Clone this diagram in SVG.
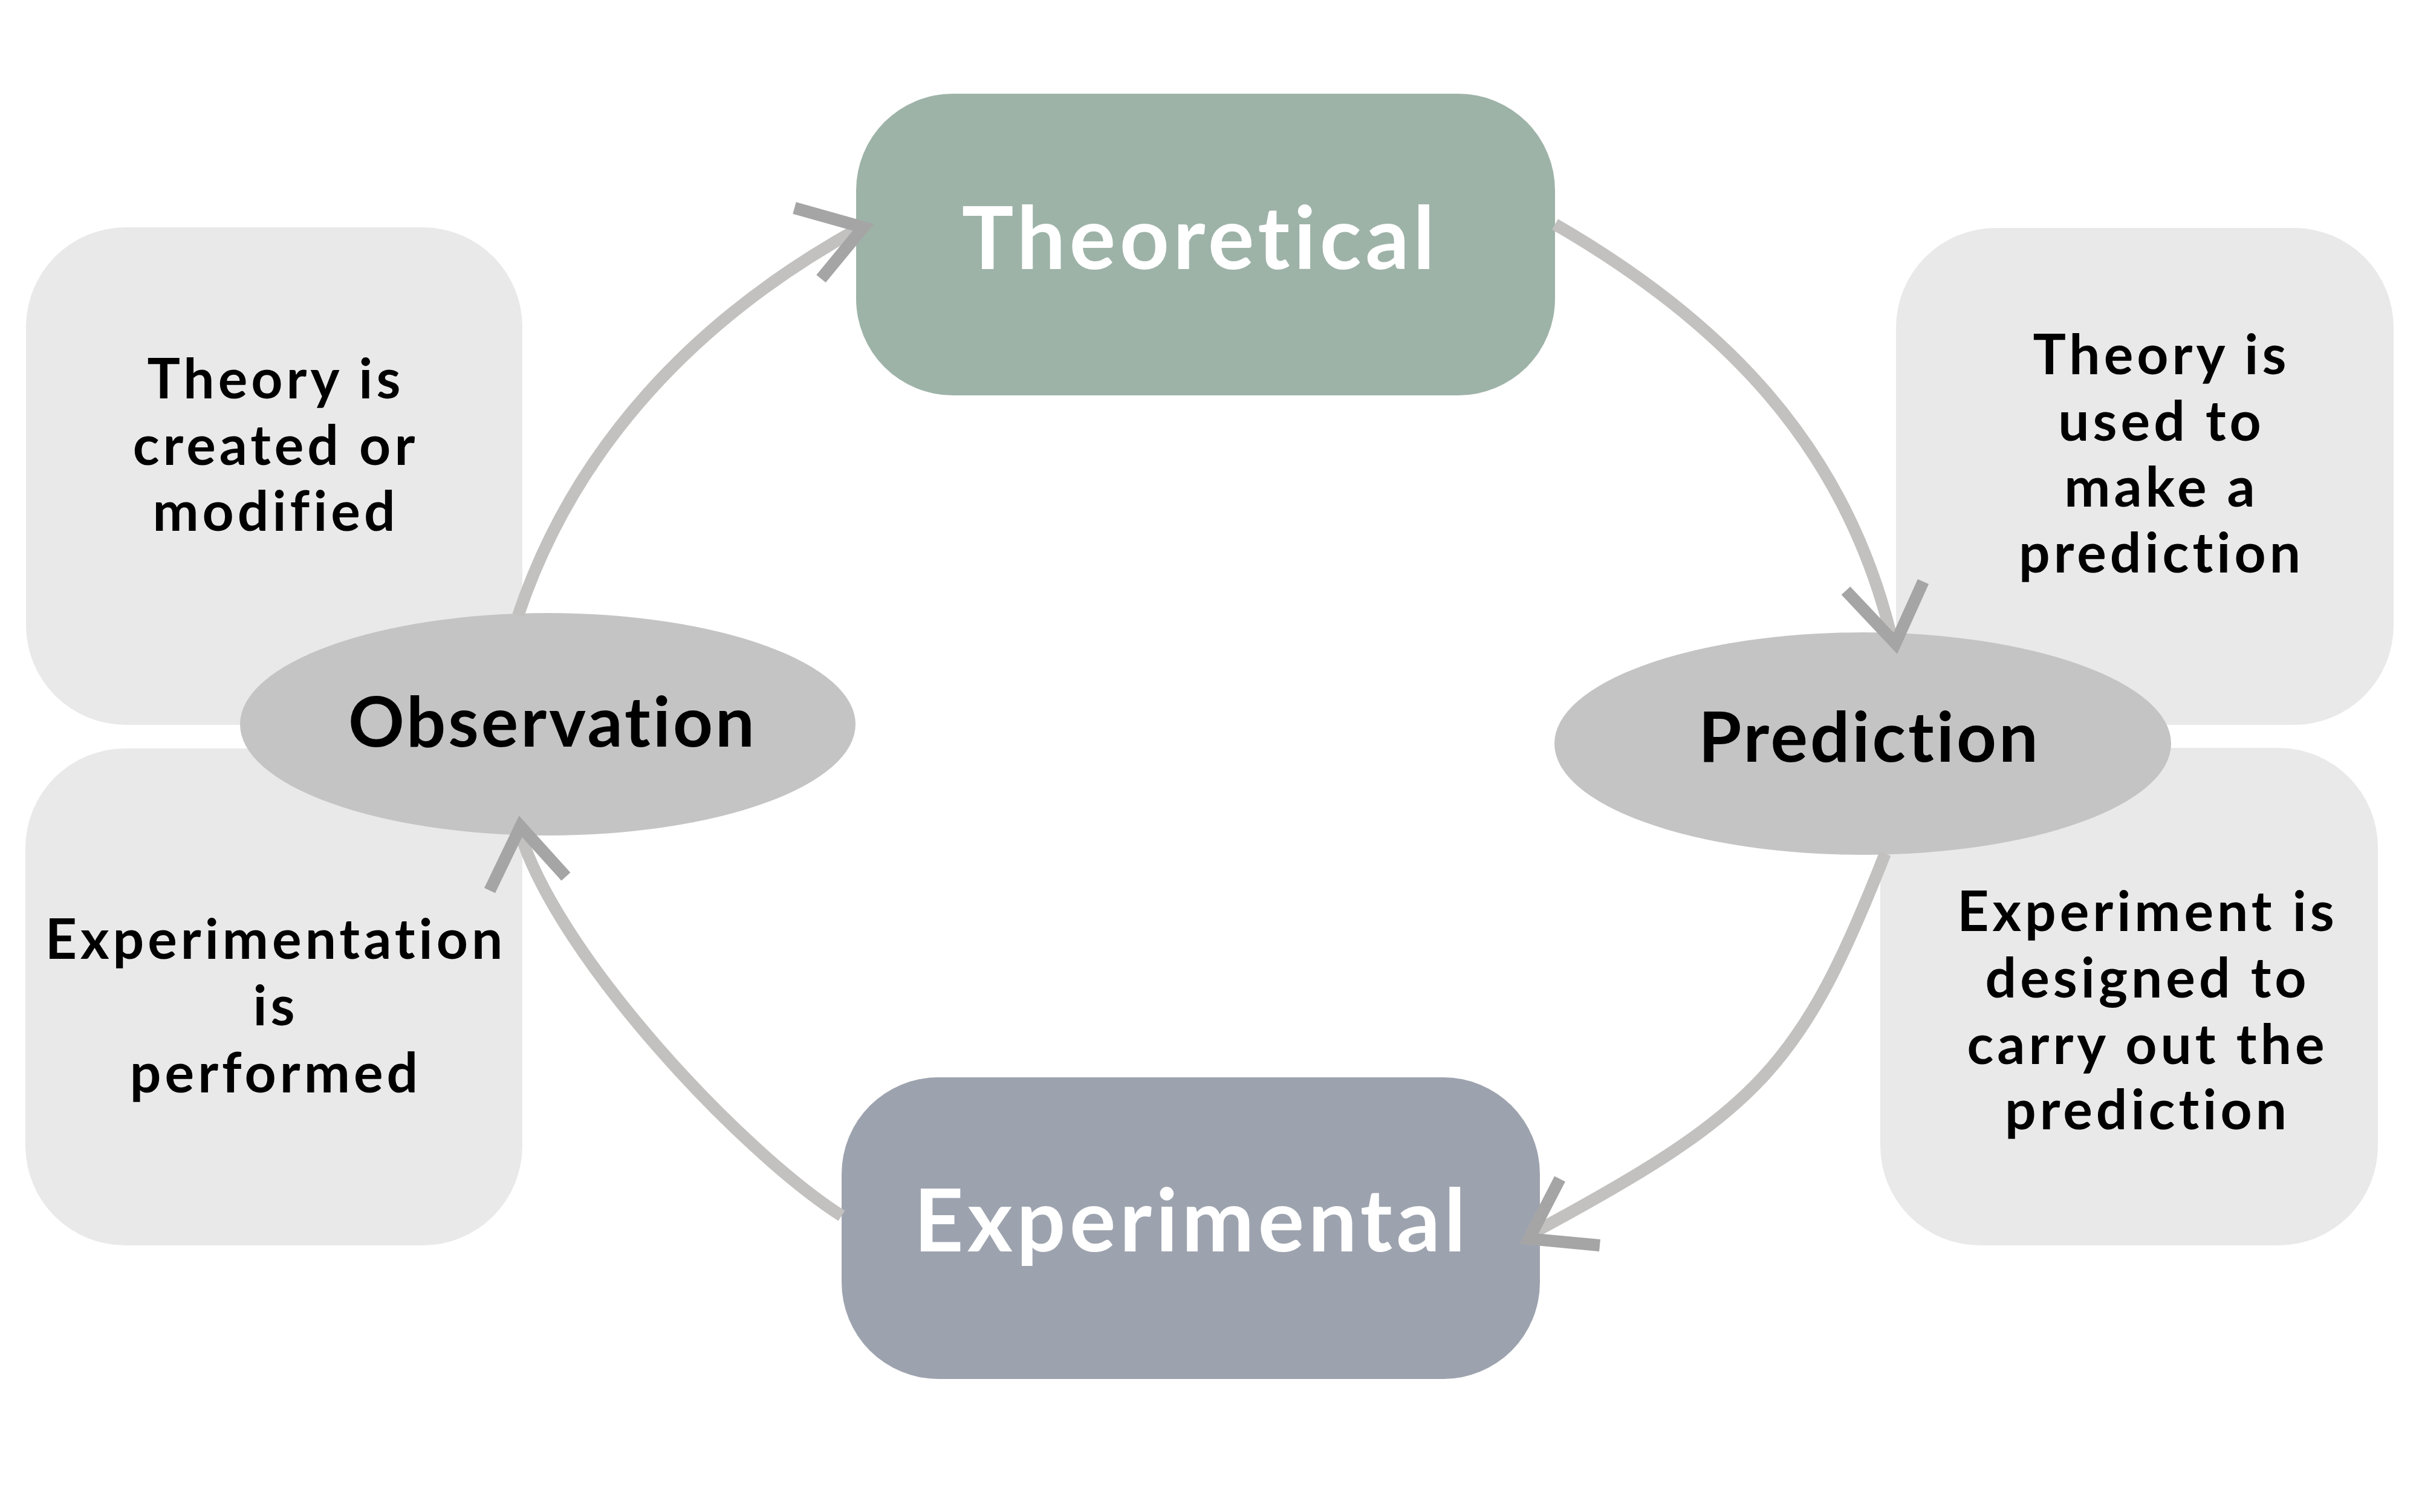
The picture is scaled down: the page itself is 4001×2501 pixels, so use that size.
<svg xmlns="http://www.w3.org/2000/svg" width="4001" height="2501" viewBox="0 0 4001 2501">
  <style>
    text { font-variant-ligatures: none; }
    .note rect { fill: #E9E9E9; }
    .note text { font-family: Lato, "Liberation Sans", sans-serif; font-weight: 700; font-size: 91px; letter-spacing: 6px; fill: #000; text-anchor: middle; }
    .ell ellipse { fill: #C4C4C4; }
    .ell text { font-family: Lato, "Liberation Sans", sans-serif; font-weight: 700; font-size: 115px; letter-spacing: 4px; fill: #000; text-anchor: middle; }
    .main text { font-family: Lato, "Liberation Sans", sans-serif; font-weight: 700; font-size: 143px; letter-spacing: 6.5px; fill: #fff; text-anchor: middle; }
    .line { fill: none; stroke: #C2C1BF; stroke-width: 20; stroke-linecap: butt; }
    .head { fill: none; stroke: #A5A5A5; stroke-width: 20; stroke-linejoin: miter; stroke-linecap: butt; stroke-miterlimit: 10; }
  </style>
  <rect width="4001" height="2501" fill="#fff"/>

  <g id="note-theory-created" class="note">
    <rect x="43" y="376" width="821" height="823" rx="165" ry="165"/>
    <text x="456" y="659">Theory is</text>
    <text x="456" y="769">created or</text>
    <text x="456" y="878">modified</text>
  </g>
  <g id="note-experimentation" class="note">
    <rect x="42" y="1238" width="822" height="822" rx="165" ry="165"/>
    <text x="456" y="1586">Experimentation</text>
    <text x="456" y="1696">is</text>
    <text x="456" y="1807">performed</text>
  </g>
  <g id="note-theory-used" class="note">
    <rect x="3136" y="377" width="823" height="822" rx="165" ry="165"/>
    <text x="3575" y="619">Theory is</text>
    <text x="3575" y="729">used to</text>
    <text x="3575" y="838">make a</text>
    <text x="3575" y="947">prediction</text>
  </g>
  <g id="note-experiment-designed" class="note">
    <rect x="3110" y="1237" width="823" height="823" rx="165" ry="165"/>
    <text x="3552" y="1540">Experiment is</text>
    <text x="3552" y="1650">designed to</text>
    <text x="3552" y="1760">carry out the</text>
    <text x="3552" y="1868">prediction</text>
  </g>

  <g id="theoretical" class="main">
    <rect x="1416" y="155" width="1156" height="499" rx="160" ry="160" fill="#9EB3A8"/>
    <text x="1985" y="445">Theoretical</text>
  </g>
  <g id="experimental" class="main">
    <rect x="1392" y="1782" width="1155" height="499" rx="160" ry="160" fill="#9DA3AE"/>
    <text x="1971" y="2070">Experimental</text>
  </g>
  <g id="observation" class="ell">
    <ellipse cx="906" cy="1198" rx="509" ry="184"/>
    <text x="914" y="1235">Observation</text>
  </g>
  <g id="prediction" class="ell">
    <ellipse cx="3081" cy="1230" rx="510" ry="184"/>
    <text x="3092" y="1260">Prediction</text>
  </g>

  <g id="connectors">
    <path class="line" d="M 857 1018 C 950 740, 1150 527, 1420 378"/>
    <polyline class="head" points="1314,344 1428,376 1358,461"/>
    <path class="line" d="M 2572 371 C 2845 529, 3050 732, 3128 1052"/>
    <polyline class="head" points="3053,977 3135,1064 3181,962"/>
    <path class="line" d="M 3118 1412 C 2980 1763, 2910 1838, 2538 2038"/>
    <polyline class="head" points="2580,1950 2529,2049 2646,2060"/>
    <path class="line" d="M 1392 2011 C 1222 1902, 925 1583, 861 1380"/>
    <polyline class="head" points="810,1473 861,1367 936,1450"/>
  </g>
</svg>
